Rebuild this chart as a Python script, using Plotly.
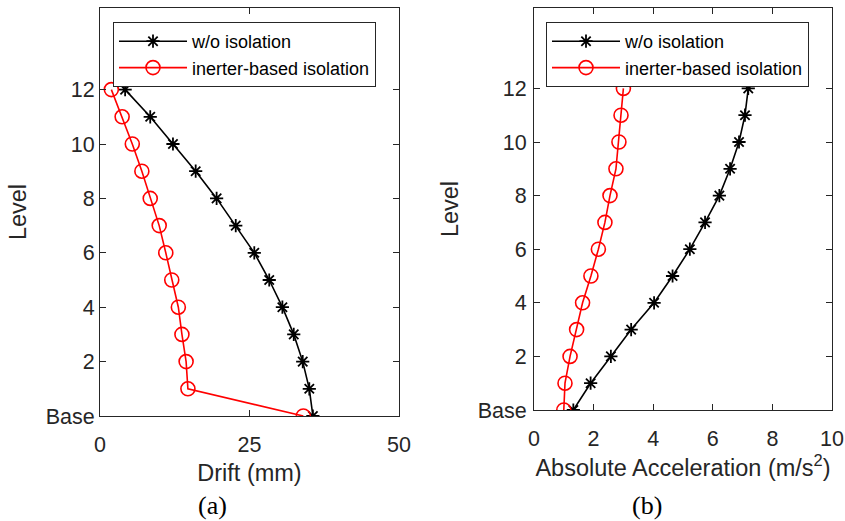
import plotly.graph_objects as go

levels = [12, 11, 10, 9, 8, 7, 6, 5, 4, 3, 2, 1, 0]
drift_wo = [4.2, 8.4, 12.2, 16.0, 19.5, 22.7, 25.8, 28.3, 30.5, 32.4, 33.9, 35.0, 35.6]
drift_inerter = [1.9, 3.7, 5.4, 7.0, 8.4, 9.9, 11.0, 12.0, 13.1, 13.7, 14.4, 14.7, 34.0]
acc_wo = [7.19, 7.08, 6.88, 6.58, 6.22, 5.74, 5.23, 4.65, 4.03, 3.26, 2.58, 1.90, 1.32]
acc_inerter = [3.0, 2.92, 2.85, 2.75, 2.55, 2.38, 2.16, 1.91, 1.63, 1.43, 1.21, 1.04, 1.0]
level_tickvals = [0, 2, 4, 6, 8, 10, 12]
level_ticktext = ["Base", "2", "4", "6", "8", "10", "12"]
drift_ticks = [0, 25, 50]
acc_ticks = [0, 2, 4, 6, 8, 10]
names = ["w/o isolation", "inerter-based isolation"]

W, H = 845, 521
FONT = "Liberation Sans, Arial, sans-serif"
AXC = "#262626"

fig = go.Figure()

def add_pair(xa, ya, legend, xs_wo, xs_in):
    fig.add_trace(go.Scatter(
        x=xs_wo, y=levels, mode="lines+markers", name=names[0],
        xaxis=xa, yaxis=ya, legend=legend,
        line=dict(color="black", width=1.6),
        marker=dict(symbol="asterisk-open", size=11, color="black",
                    line=dict(color="black", width=1.8)),
    ))
    fig.add_trace(go.Scatter(
        x=xs_in, y=levels, mode="lines+markers", name=names[1],
        xaxis=xa, yaxis=ya, legend=legend,
        line=dict(color="#ff0000", width=1.6),
        marker=dict(symbol="circle-open", size=14, color="#ff0000",
                    line=dict(color="#ff0000", width=1.6)),
    ))

add_pair("x", "y", "legend", drift_wo, drift_inerter)
add_pair("x2", "y2", "legend2", acc_wo, acc_inerter)

def px_x(p):
    return p / W

def px_y(p):
    return 1 - p / H

axis_common = dict(
    showline=True, mirror="ticks", linecolor=AXC, linewidth=1,
    ticks="inside", ticklen=6, tickcolor=AXC, tickwidth=1,
    showgrid=False, zeroline=False, automargin=False,
    tickfont=dict(family=FONT, size=21.5, color=AXC),
)
title_font = dict(family=FONT, size=23.5, color=AXC)
legend_common = dict(xanchor="left", yanchor="top", bgcolor="white",
                     bordercolor="#262626", borderwidth=1, itemwidth=68,
                     font=dict(family=FONT, size=18, color="black"), tracegroupgap=0)

fig.update_layout(
    width=W, height=H,
    margin=dict(l=0, r=0, t=0, b=0, autoexpand=False),
    plot_bgcolor="white", paper_bgcolor="white",
    xaxis=dict(domain=[px_x(100), px_x(399)], range=[0, 50], tickvals=drift_ticks,
               anchor="y", ticklabelstandoff=9,
               title=dict(text="Drift (mm)", font=title_font, standoff=8),
               **axis_common),
    yaxis=dict(domain=[px_y(416), px_y(8)], range=[0, 15], tickvals=level_tickvals,
               ticktext=level_ticktext, anchor="x",
               title=dict(text="Level", font=title_font, standoff=12),
               **axis_common),
    xaxis2=dict(domain=[px_x(534), px_x(832)], range=[0, 10], tickvals=acc_ticks,
                anchor="y2", ticklabelstandoff=9,
                title=dict(text="Absolute Acceleration (m/s<sup>2</sup>)", font=title_font, standoff=8),
                **axis_common),
    yaxis2=dict(domain=[px_y(410), px_y(8)], range=[0, 15], tickvals=level_tickvals,
                ticktext=level_ticktext, anchor="x2", ticklabelstandoff=2,
                title=dict(text="Level", font=title_font, standoff=12),
                **axis_common),
    legend=dict(x=px_x(113), y=px_y(22), **legend_common),
    legend2=dict(x=px_x(546), y=px_y(22), **legend_common),
    showlegend=True,
)

cap_font = dict(family="Liberation Serif, Times New Roman, serif", size=26, color="black")
fig.add_annotation(text="(a)", x=px_x(212), y=px_y(505), xref="paper", yref="paper",
                   xanchor="center", yanchor="middle", showarrow=False, font=cap_font)
fig.add_annotation(text="(b)", x=px_x(647), y=px_y(505), xref="paper", yref="paper",
                   xanchor="center", yanchor="middle", showarrow=False, font=cap_font)

fig.write_html("out.html", config={"displayModeBar": False},
               post_script="document.body.style.margin='0';document.body.style.overflow='hidden';")
